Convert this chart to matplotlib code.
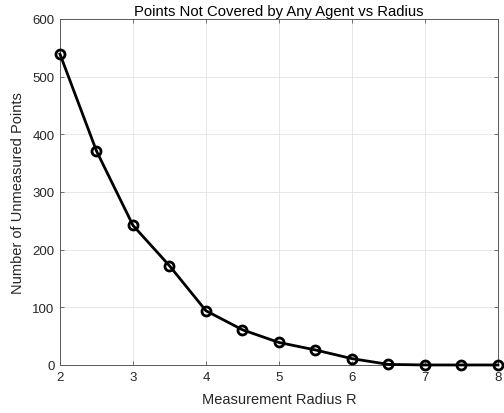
import matplotlib
matplotlib.use("Agg")
import matplotlib.pyplot as plt

plt.rcParams['font.family'] = ['Liberation Sans', 'DejaVu Sans']

radius = [2, 2.5, 3, 3.5, 4, 4.5, 5, 5.5, 6, 6.5, 7, 7.5, 8]
unmeasured = [539, 371, 242, 172, 94, 61, 39, 26, 11, 1, 0, 0, 0]
xticks = [2, 3, 4, 5, 6, 7, 8]
yticks = [0, 100, 200, 300, 400, 500, 600]

fig = plt.figure(figsize=(5.04, 4.14), dpi=100)
ax = fig.add_axes([0.119, 0.116, 0.869, 0.836])

ax.plot(radius, unmeasured, color='black', linewidth=2, marker='o',
        markersize=6.5, markerfacecolor='none', markeredgewidth=2, zorder=3,
        clip_on=False)

ax.set_xlim(2, 8)
ax.set_ylim(0, 600)
ax.set_xticks(xticks)
ax.set_yticks(yticks)
ax.grid(True, color='#e3e3e3', linewidth=0.6)
ax.set_axisbelow(True)

tick_color = '#262626'
for s in ax.spines.values():
    s.set_color('#5a5a5a')
    s.set_linewidth(0.7)
ax.tick_params(direction='in', length=3, width=0.6, colors='#5a5a5a',
               labelcolor=tick_color, labelsize=9.5, top=True, right=True,
               pad=4)

ax.set_xlabel('Measurement Radius R', fontsize=10.5, color=tick_color, labelpad=7)
ax.set_ylabel('Number of Unmeasured Points', fontsize=10.5, color=tick_color, labelpad=5)
ax.set_title('Points Not Covered by Any Agent vs Radius', fontsize=10.7, color='black', pad=3)

fig.savefig('out.png', dpi=100)
